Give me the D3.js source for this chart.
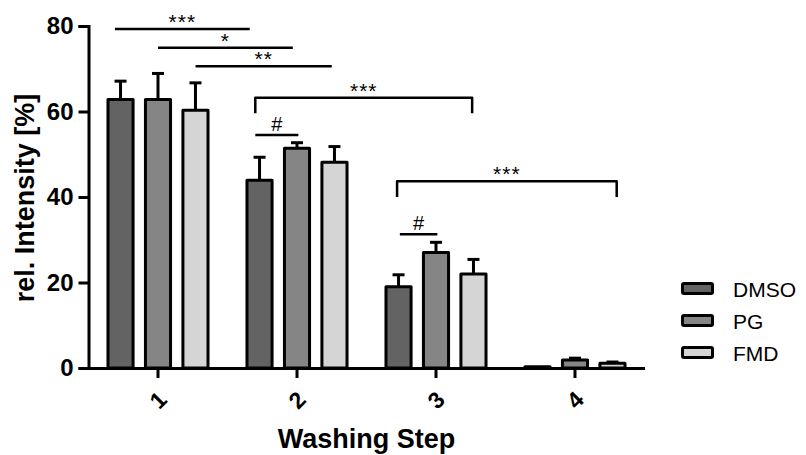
<!DOCTYPE html>
<html>
<head>
<meta charset="utf-8">
<script src="https://cdn.jsdelivr.net/npm/d3@7/dist/d3.min.js"></script>
<style>
  body { margin: 0; background: #fff; }
  text { font-family: "Liberation Sans", Arial, sans-serif; }
</style>
</head>
<body>
<script>
// categories and series
var steps = ["1", "2", "3", "4"];
var groups = ["DMSO", "PG", "FMD"];
var colors = ["#636363", "#858585", "#d5d5d5"];

// mean values per step, one array per series
var dmso = [62.8, 43.9, 19.0, 0.3];
var pg   = [62.8, 51.4, 27.0, 1.9];
var fmd  = [60.3, 48.1, 22.0, 1.1];
// upper error (SD)
var dmsoErr = [4.3, 5.4, 2.8, 0];
var pgErr   = [6.1, 1.3, 2.4, 0.4];
var fmdErr  = [6.4, 3.7, 3.4, 0.3];

var yTicks = [0, 20, 40, 60, 80];

// significance marks: x in step units (1..4), y in %
var sigLines = [
  {x1: 0.69, x2: 1.66, y: 79.3, label: "***"},
  {x1: 1.00, x2: 1.97, y: 74.9, label: "*"},
  {x1: 1.27, x2: 2.25, y: 70.6, label: "**"},
  {x1: 1.70, x2: 2.01, y: 54.5, label: "#"},
  {x1: 2.74, x2: 3.01, y: 31.3, label: "#"}
];
var sigBrackets = [
  {x1: 1.70, x2: 3.26, y: 63.2, y0: 59.6, label: "***"},
  {x1: 2.72, x2: 4.30, y: 43.7, y0: 40.0, label: "***"}
];

var width = 806, height = 455;
var margin = {top: 26, left: 88.5, right: 161.5, bottom: 87};

var svg = d3.select("body").append("svg")
    .attr("width", width)
    .attr("height", height);

var x = d3.scaleBand()
    .domain(steps)
    .range([margin.left, width - margin.right])
    .padding(0);

var xIdx = d3.scaleLinear()
    .domain([0.5, steps.length + 0.5])
    .range([margin.left, width - margin.right]);

var xSub = d3.scaleBand()
    .domain(groups)
    .range([0, x.bandwidth()])
    .paddingInner(0.33)
    .paddingOuter(0.52);

var y = d3.scaleLinear()
    .domain([0, 80])
    .range([height - margin.bottom, margin.top]);

var series = [dmso, pg, fmd];
var errs = [dmsoErr, pgErr, fmdErr];

var barData = [];
steps.forEach(function(s, i) {
  groups.forEach(function(g, j) {
    barData.push({step: s, group: g, value: series[j][i], err: errs[j][i], color: colors[j]});
  });
});

// error bars (drawn first so bar outline sits on top)
var eb = svg.append("g").attr("class", "errors");
barData.forEach(function(d) {
  if (d.err <= 0) return;
  var cx = x(d.step) + xSub(d.group) + xSub.bandwidth() / 2;
  eb.append("line")
    .attr("x1", cx).attr("x2", cx)
    .attr("y1", y(d.value)).attr("y2", y(d.value + d.err))
    .attr("stroke", "#000").attr("stroke-width", 3);
  eb.append("line")
    .attr("x1", cx - 6).attr("x2", cx + 6)
    .attr("y1", y(d.value + d.err)).attr("y2", y(d.value + d.err))
    .attr("stroke", "#000").attr("stroke-width", 3);
});

svg.append("g").attr("class", "bars")
  .selectAll("rect")
  .data(barData)
  .enter().append("rect")
    .attr("x", function(d) { return x(d.step) + xSub(d.group); })
    .attr("width", xSub.bandwidth())
    .attr("y", function(d) { return y(d.value); })
    .attr("height", function(d) { return y(0) - y(d.value); })
    .attr("fill", function(d) { return d.color; })
    .attr("stroke", "#000")
    .attr("stroke-width", 3)
    .attr("stroke-linejoin", "round");

// y axis
var yAxis = svg.append("g")
    .attr("transform", "translate(" + margin.left + ",0)")
    .call(d3.axisLeft(y).tickValues(yTicks).tickSize(10).tickPadding(5));
yAxis.select(".domain").attr("stroke-width", 3);
yAxis.selectAll(".tick line").attr("stroke-width", 3);
yAxis.selectAll("text")
    .style("font-size", "24px").style("font-weight", "bold")
    .style("font-family", "Liberation Sans, Arial, sans-serif");

// x axis
var xAxis = svg.append("g")
    .attr("transform", "translate(0," + y(0) + ")")
    .call(d3.axisBottom(x).tickSize(10).tickSizeOuter(0));
xAxis.select(".domain").attr("stroke-width", 3);
xAxis.selectAll(".tick line").attr("stroke-width", 3);
xAxis.selectAll("text")
    .style("font-size", "23px").style("font-weight", "bold")
    .style("font-family", "Liberation Sans, Arial, sans-serif")
    .attr("text-anchor", "middle")
    .attr("dy", "0.35em")
    .attr("y", 32)
    .attr("transform", "rotate(-45,0,32)");

// axis titles
svg.append("text")
    .attr("x", (margin.left + width - margin.right) / 2)
    .attr("y", 448)
    .attr("text-anchor", "middle")
    .style("font-size", "27px").style("font-weight", "bold")
    .text("Washing Step");

svg.append("text")
    .attr("transform", "translate(34,198) rotate(-90)")
    .attr("text-anchor", "middle")
    .style("font-size", "27px").style("font-weight", "bold")
    .text("rel. Intensity [%]");

// significance annotations
var sig = svg.append("g").attr("class", "sig");
function sigLabel(d) {
  var star = d.label != "#";
  sig.append("text")
    .attr("x", (xIdx(d.x1) + xIdx(d.x2)) / 2)
    .attr("y", y(d.y) - (star ? 0 : 4))
    .attr("text-anchor", "middle")
    .style("font-size", star ? "21px" : "20px")
    .style("letter-spacing", star ? "1px" : "0px")
    .text(d.label);
}
sigLines.forEach(function(d) {
  sig.append("line")
    .attr("x1", xIdx(d.x1)).attr("x2", xIdx(d.x2))
    .attr("y1", y(d.y)).attr("y2", y(d.y))
    .attr("stroke", "#000").attr("stroke-width", 2.5);
  sigLabel(d);
});
sigBrackets.forEach(function(d) {
  sig.append("path")
    .attr("d", "M" + xIdx(d.x1) + "," + y(d.y0) + "V" + y(d.y) + "H" + xIdx(d.x2) + "V" + y(d.y0))
    .attr("fill", "none")
    .attr("stroke", "#000").attr("stroke-width", 2.5)
    .attr("stroke-linejoin", "round");
  sigLabel(d);
});

// legend
var legend = svg.append("g").attr("transform", "translate(682.5,283.5)");
groups.forEach(function(g, i) {
  var row = legend.append("g").attr("transform", "translate(0," + (i * 32) + ")");
  row.append("rect")
    .attr("width", 30).attr("height", 10)
    .attr("fill", colors[i])
    .attr("stroke", "#000").attr("stroke-width", 3)
    .attr("rx", 1.5);
  row.append("text")
    .attr("x", 50.5).attr("y", 13)
    .style("font-size", "21px")
    .text(g);
});
</script>
</body>
</html>
